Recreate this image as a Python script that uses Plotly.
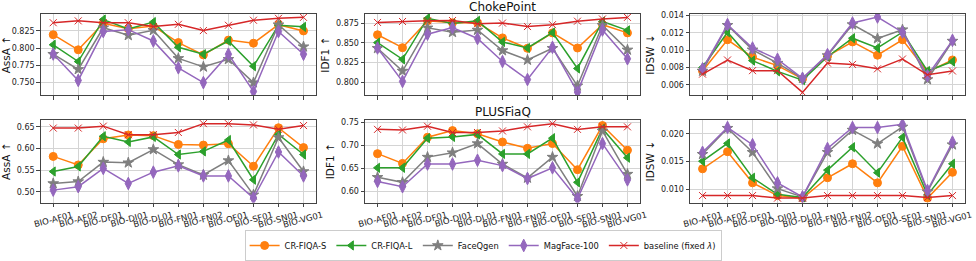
import plotly.graph_objects as go
from plotly.subplots import make_subplots

categories = ["BIO-AF01", "BIO-AF02", "BIO-DF01", "BIO-DI01", "BIO-DL01", "BIO-FN01",
              "BIO-FN02", "BIO-OF01", "BIO-SF01", "BIO-SN01", "BIO-VG01"]
series_names = ["CR-FIQA-S", "CR-FIQA-L", "FaceQgen", "MagFace-100", "baseline (fixed <i>λ</i>)"]
datasets = ["ChokePoint", "PLUSFiaQ"]
metrics = ["AssA ↑", "IDF1 ↑", "IDSW ↓"]

# ChokePoint - AssA
cp_assa_crs = [0.8195, 0.7976, 0.8360, 0.8280, 0.8320, 0.8081, 0.7902, 0.8117, 0.8072, 0.8341, 0.8250]
cp_assa_crl = [0.8049, 0.7806, 0.8415, 0.8277, 0.8378, 0.8012, 0.7912, 0.8104, 0.7738, 0.8332, 0.8309]
cp_assa_fqg = [0.7912, 0.7692, 0.8296, 0.8186, 0.8259, 0.7852, 0.7729, 0.7838, 0.7500, 0.8340, 0.8021]
cp_assa_mag = [0.7915, 0.7532, 0.8241, 0.8268, 0.8104, 0.7715, 0.7500, 0.7912, 0.7372, 0.8241, 0.7912]
cp_assa_base = [0.8369, 0.8396, 0.8369, 0.8369, 0.8314, 0.8346, 0.8255, 0.8332, 0.8405, 0.8433, 0.8447]

# ChokePoint - IDF1
cp_idf1_crs = [0.8602, 0.8439, 0.8778, 0.8754, 0.8754, 0.8563, 0.8431, 0.8626, 0.8435, 0.8730, 0.8626]
cp_idf1_crl = [0.8503, 0.8292, 0.8810, 0.8746, 0.8778, 0.8511, 0.8435, 0.8630, 0.8176, 0.8770, 0.8658]
cp_idf1_fqg = [0.8431, 0.8144, 0.8690, 0.8634, 0.8662, 0.8403, 0.8283, 0.8431, 0.7957, 0.8722, 0.8411]
cp_idf1_mag = [0.8435, 0.8012, 0.8610, 0.8694, 0.8555, 0.8264, 0.8036, 0.8443, 0.7877, 0.8662, 0.8299]
cp_idf1_base = [0.8758, 0.8770, 0.8778, 0.8782, 0.8742, 0.8750, 0.8706, 0.8730, 0.8774, 0.8802, 0.8822]

# ChokePoint - IDSW
cp_idsw_crs = [0.00760, 0.01120, 0.00920, 0.00822, 0.00669, 0.00931, 0.01095, 0.00942, 0.01120, 0.00749, 0.00887]
cp_idsw_crl = [0.00800, 0.01207, 0.00880, 0.00756, 0.00655, 0.00924, 0.01138, 0.01025, 0.01207, 0.00760, 0.00869]
cp_idsw_fqg = [0.00760, 0.01287, 0.01004, 0.00851, 0.00676, 0.00938, 0.01295, 0.01135, 0.01236, 0.00662, 0.01105]
cp_idsw_mag = [0.00785, 0.01295, 0.01025, 0.00895, 0.00676, 0.00949, 0.01313, 0.01382, 0.01207, 0.00705, 0.01113]
cp_idsw_base = [0.00724, 0.00887, 0.00764, 0.00764, 0.00513, 0.00851, 0.00836, 0.00785, 0.00898, 0.00716, 0.00760]

# PLUSFiaQ - AssA
pf_assa_crs = [0.5816, 0.5619, 0.6223, 0.6311, 0.6296, 0.6092, 0.6078, 0.6107, 0.5590, 0.6478, 0.6020]
pf_assa_crl = [0.5467, 0.5583, 0.6282, 0.6151, 0.6267, 0.5860, 0.5932, 0.6194, 0.5277, 0.6325, 0.5860]
pf_assa_fqg = [0.5190, 0.5234, 0.5685, 0.5670, 0.5976, 0.5627, 0.5387, 0.5720, 0.4928, 0.6253, 0.5467]
pf_assa_mag = [0.5037, 0.5117, 0.5539, 0.5190, 0.5452, 0.5598, 0.5365, 0.5365, 0.4855, 0.5918, 0.5365]
pf_assa_base = [0.6471, 0.6471, 0.6515, 0.6318, 0.6318, 0.6369, 0.6573, 0.6573, 0.6544, 0.6442, 0.6529]

# PLUSFiaQ - IDF1
pf_idf1_crs = [0.6822, 0.6610, 0.7178, 0.7322, 0.7253, 0.7075, 0.6938, 0.7041, 0.6473, 0.7432, 0.6897]
pf_idf1_crl = [0.6514, 0.6514, 0.7158, 0.7185, 0.7240, 0.6815, 0.6815, 0.7158, 0.6199, 0.7363, 0.6733]
pf_idf1_fqg = [0.6308, 0.6199, 0.6747, 0.6842, 0.7041, 0.6596, 0.6295, 0.6747, 0.5897, 0.7315, 0.6377]
pf_idf1_mag = [0.6219, 0.6103, 0.6596, 0.6596, 0.6678, 0.6562, 0.6281, 0.6514, 0.5843, 0.7041, 0.6253]
pf_idf1_base = [0.7349, 0.7336, 0.7418, 0.7281, 0.7281, 0.7315, 0.7404, 0.7473, 0.7349, 0.7404, 0.7404]

# PLUSFiaQ - IDSW
pf_idsw_crs = [0.01368, 0.01678, 0.01115, 0.00885, 0.00839, 0.01207, 0.01460, 0.01115, 0.01776, 0.00839, 0.01305]
pf_idsw_crl = [0.01506, 0.01828, 0.01207, 0.00908, 0.00851, 0.01345, 0.01759, 0.01299, 0.01937, 0.00897, 0.01460]
pf_idsw_fqg = [0.01632, 0.02103, 0.01667, 0.01011, 0.00862, 0.01667, 0.02069, 0.01822, 0.02126, 0.00954, 0.01805]
pf_idsw_mag = [0.01667, 0.02115, 0.01805, 0.01115, 0.00862, 0.01736, 0.02115, 0.02115, 0.02172, 0.00977, 0.01851]
pf_idsw_base = [0.00885, 0.00885, 0.00885, 0.00839, 0.00839, 0.00885, 0.00885, 0.00885, 0.00885, 0.00851, 0.00885]

panels = [
    [[cp_assa_crs, cp_assa_crl, cp_assa_fqg, cp_assa_mag, cp_assa_base],
     [cp_idf1_crs, cp_idf1_crl, cp_idf1_fqg, cp_idf1_mag, cp_idf1_base],
     [cp_idsw_crs, cp_idsw_crl, cp_idsw_fqg, cp_idsw_mag, cp_idsw_base]],
    [[pf_assa_crs, pf_assa_crl, pf_assa_fqg, pf_assa_mag, pf_assa_base],
     [pf_idf1_crs, pf_idf1_crl, pf_idf1_fqg, pf_idf1_mag, pf_idf1_base],
     [pf_idsw_crs, pf_idsw_crl, pf_idsw_fqg, pf_idsw_mag, pf_idsw_base]],
]

colors = ["#ff7f0e", "#2ca02c", "#7f7f7f", "#9467bd", "#d62728"]
symbols = ["circle", "triangle-left", "star", "diamond-tall", "x-thin"]
msizes = [8, 8, 8, 9, 7]

y_ranges = [[[0.7316, 0.8497], [0.7837, 0.8866], [0.0048, 0.01418]],
            [[0.475, 0.666], [0.576, 0.7555], [0.00759, 0.02253]]]
y_ticks = [[[0.750, 0.775, 0.800, 0.825], [0.800, 0.825, 0.850, 0.875], [0.006, 0.008, 0.010, 0.012, 0.014]],
           [[0.50, 0.55, 0.60, 0.65], [0.60, 0.65, 0.70, 0.75], [0.010, 0.015, 0.020]]]
y_fmt = [[".3f", ".3f", ".3f"], [".2f", ".2f", ".3f"]]

fig = make_subplots(rows=2, cols=3)

xdom = [[0.0417, 0.3238], [0.374, 0.6557], [0.707, 0.9887]]
ydom = [[0.6142, 0.9437], [0.180, 0.5146]]

FONT = "DejaVu Sans"
FRAME = "#444444"
GRID = "#d4d4d4"

for r in range(2):
    for c in range(3):
        for k in range(5):
            fig.add_trace(go.Scatter(
                x=list(range(len(categories))), y=panels[r][c][k],
                mode="lines+markers", name=series_names[k],
                legendgroup=series_names[k], showlegend=(r == 0 and c == 0),
                line=dict(color=colors[k], width=1.5),
                marker=dict(symbol=symbols[k], size=msizes[k], color=colors[k],
                            line=dict(color=colors[k], width=1)),
            ), row=r + 1, col=c + 1)
        fig.update_xaxes(
            domain=xdom[c], range=[-0.5, 10.5], automargin=False,
            tickmode="array", tickvals=list(range(len(categories))),
            ticktext=categories if r == 1 else [""] * len(categories),
            showticklabels=(r == 1), tickangle=-15, ticklabelshift=19,
            tickfont=dict(family=FONT, size=8.5, color="#222"),
            ticks="outside", ticklen=3.5, tickcolor=FRAME,
            showgrid=True, gridcolor=GRID, gridwidth=1,
            showline=True, mirror=True, linecolor=FRAME, linewidth=1,
            zeroline=False, row=r + 1, col=c + 1)
        fig.update_yaxes(
            domain=ydom[r], range=y_ranges[r][c], automargin=False,
            tickmode="array", tickvals=y_ticks[r][c], tickformat=y_fmt[r][c],
            tickfont=dict(family=FONT, size=8, color="#222"),
            ticks="outside", ticklen=3.5, tickcolor=FRAME,
            showgrid=True, gridcolor=GRID, gridwidth=1,
            showline=True, mirror=True, linecolor=FRAME, linewidth=1,
            zeroline=False,
            title=dict(text=metrics[c], font=dict(family=FONT, size=10.5, color="#111"), standoff=4),
            row=r + 1, col=c + 1)

fig.add_annotation(text=datasets[0], x=0.515, y=1 - 7 / 261, xref="paper", yref="paper",
                   showarrow=False, xanchor="center", yanchor="middle",
                   font=dict(family=FONT, size=12, color="#111"))
fig.add_annotation(text=datasets[1], x=0.515, y=1 - 118 / 261, xref="paper", yref="paper",
                   showarrow=False, xanchor="center", yanchor="middle",
                   font=dict(family=FONT, size=12, color="#111"))

fig.update_layout(
    width=976, height=261,
    margin=dict(l=0, r=0, t=0, b=0),
    paper_bgcolor="white", plot_bgcolor="white",
    font=dict(family=FONT, size=9, color="#111"),
    legend=dict(orientation="h", x=0.495, xanchor="center", y=0.069, yanchor="top",
                bordercolor="#cccccc", borderwidth=1, bgcolor="white",
                itemwidth=30, font=dict(family=FONT, size=8.3, color="#111"),
                tracegroupgap=0),
)

fig.write_html("out.html", config={"displayModeBar": False},
               post_script="document.body.style.margin='0';document.body.style.overflow='hidden';")
